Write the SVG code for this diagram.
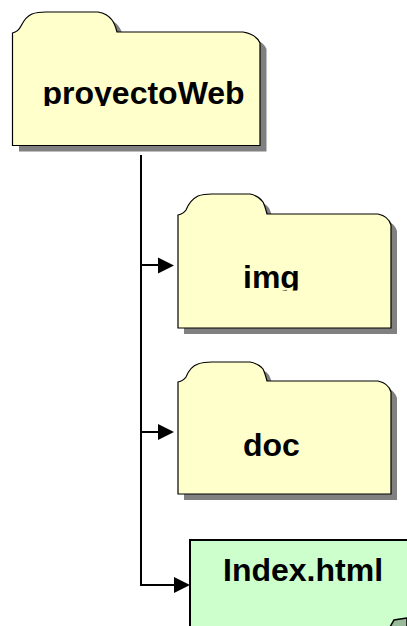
<svg xmlns="http://www.w3.org/2000/svg" width="407" height="626" viewBox="0 0 407 626">
<style>
.shadow{fill:#808080;stroke:none}
.folder{fill:#ffffcc;stroke:#000;stroke-width:1.2}
.lbl{font-family:"Liberation Sans",Arial,sans-serif;font-weight:bold;fill:#000;font-size:32px}
.line{fill:none;stroke:#000;stroke-width:2}
.head{fill:#000;stroke:none}
</style>
<defs>
<path id="f1" d="M12.500 33C17 32 19 30 21 26C24 20 27 16 32 14C36 12.500 40 12 46 12L98 12C104 13 109 16 112 20C115 24 116 28 117 32L243 32C249 33 257 36 260 43L260 145.500L12.500 145.500Z"/>
<path id="f2" d="M178 215C182 214 184 213 186 210C188 205 192 199 198 196C202 194.500 206 194 212 194L250 194C255 195 260 198 263 202C265 206 266 210 267 214L378 214C383 215 389 218 391 225L391 328L178 328Z"/>
<path id="f3" d="M178 382C182 381 184 380 186 377C188 372 192 366 198 364C202 362.500 206 362 212 362L250 362C255 363 260 365 263 369C265 373 266 377 267 381L378 381C383 382 389 385 391 392L391 494L178 494Z"/>
<clipPath id="c1"><rect x="0" y="60" width="300" height="46"/></clipPath>
<clipPath id="c2"><rect x="180" y="240" width="227" height="50.500"/></clipPath>
</defs>
<rect width="407" height="626" fill="#fff"/>
<g id="proyectoWeb">
<use href="#f1" class="shadow" transform="translate(6.500,6)"/>
<use href="#f1" class="folder"/>
<text class="lbl" x="42.500" y="103.500" clip-path="url(#c1)">proyectoWeb</text>
</g>
<g id="img">
<use href="#f2" class="shadow" transform="translate(6,6)"/>
<use href="#f2" class="folder"/>
<text class="lbl" x="243" y="288" clip-path="url(#c2)">img</text>
</g>
<g id="doc">
<use href="#f3" class="shadow" transform="translate(6,6)"/>
<use href="#f3" class="folder"/>
<text class="lbl" x="243" y="456">doc</text>
</g>
<g id="index">
<rect x="190" y="540" width="230" height="100" fill="#ccffcc" stroke="#000" stroke-width="2"/>
<text class="lbl" x="223" y="581">Index.html</text>
<path d="M390 627L394 620L407 618L407 630L390 630Z" fill="#99bb99" stroke="#000" stroke-width="1.500"/>
</g>
<g id="connectors">
<path class="line" d="M141 155L141 585L175 585"/>
<path class="line" d="M141 265L160 265"/>
<path class="line" d="M141 432L160 432"/>
<path class="head" d="M158 257.500L174 265.500L158 273.500Z"/>
<path class="head" d="M158 424L174 432L158 440Z"/>
<path class="head" d="M174 577L190 585L174 593Z"/>
</g>
</svg>
